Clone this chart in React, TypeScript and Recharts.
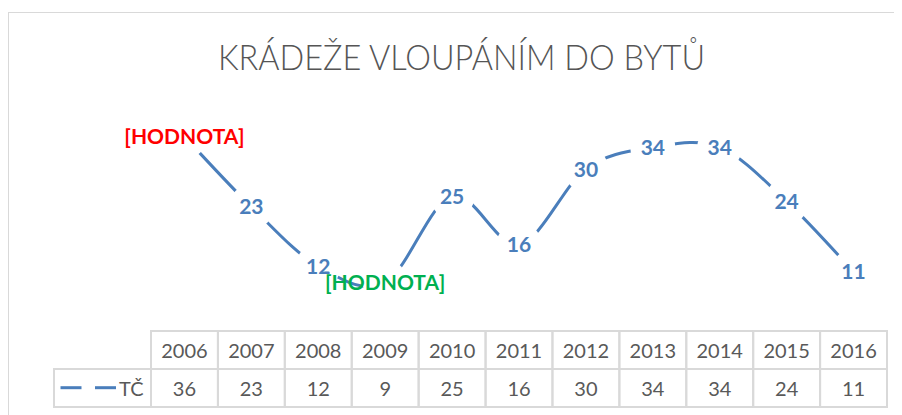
import React from 'react';
import { LineChart, Line, XAxis, YAxis, LabelList } from 'recharts';

// ---- data ----
const years = ['2006', '2007', '2008', '2009', '2010', '2011', '2012', '2013', '2014', '2015', '2016'];
const values = [36, 23, 12, 9, 25, 16, 30, 34, 34, 24, 11];
const seriesName = 'TČ';
const chartTitle = 'KRÁDEŽE VLOUPÁNÍM DO BYTŮ';
const placeholderText = '[HODNOTA]';
const overrideIndexes = [0, 3];
const overrideColors = ['#FF0000', '#00B050'];
const yDomain = [0, 40];

const data = years.map((year, i) => ({ year, tc: values[i] }));

// ---- layout / style ----
const W = 894;
const H = 407;
const MARGIN = { top: 107, right: 15, bottom: 0, left: 143 };
const PLOT_W = W - MARGIN.left - MARGIN.right;
const CELL = PLOT_W / years.length;
const ROW = 38;
const LEGEND_W = 97;
const BLUE = '#4A7EBB';
const GRID = '#D9D9D9';
const TEXT = '#595959';
const FONT = 'Lato, "Open Sans", sans-serif';

// Catmull-Rom style smoothing (like Excel's smoothed line)
const smoothCurve = (context: any) => {
  let pts: number[][] = [];
  return {
    areaStart() {},
    areaEnd() {},
    lineStart() {
      pts = [];
    },
    lineEnd() {
      const n = pts.length;
      if (!n) return;
      context.moveTo(pts[0][0], pts[0][1]);
      for (let i = 0; i < n - 1; i++) {
        const p0 = pts[i - 1] || pts[i];
        const p1 = pts[i];
        const p2 = pts[i + 1];
        const p3 = pts[i + 2] || p2;
        context.bezierCurveTo(
          p1[0] + (p2[0] - p0[0]) / 6,
          p1[1] + (p2[1] - p0[1]) / 6,
          p2[0] - (p3[0] - p1[0]) / 6,
          p2[1] - (p3[1] - p1[1]) / 6,
          p2[0],
          p2[1]
        );
      }
    },
    point(x: number, y: number) {
      pts.push([+x, +y]);
    },
  };
};

const TableTick = (props: any) => {
  const { x, y, payload } = props;
  const i = payload.index;
  const left = x - CELL / 2;
  return (
    <g>
      <rect x={left} y={y} width={CELL} height={ROW} fill="none" stroke={GRID} strokeWidth={2} />
      <rect x={left} y={y + ROW} width={CELL} height={ROW} fill="none" stroke={GRID} strokeWidth={2} />
      <text x={x} y={y + 26.5} textAnchor="middle" fill={TEXT} fontSize={20} fontFamily={FONT}>
        {payload.value}
      </text>
      <text x={x} y={y + ROW + 26.5} textAnchor="middle" fill={TEXT} fontSize={20} fontFamily={FONT}>
        {values[i]}
      </text>
      {i === 0 && (
        <g>
          <rect x={left - LEGEND_W} y={y + ROW} width={LEGEND_W} height={ROW} fill="none" stroke={GRID} strokeWidth={2} />
          <line x1={left - LEGEND_W + 6.5} x2={left - LEGEND_W + 27.5} y1={y + ROW + 18.7} y2={y + ROW + 18.7} stroke={BLUE} strokeWidth={3} />
          <line x1={left - LEGEND_W + 41} x2={left - LEGEND_W + 62} y1={y + ROW + 18.7} y2={y + ROW + 18.7} stroke={BLUE} strokeWidth={3} />
          <text x={left - 32} y={y + ROW + 26.5} textAnchor="start" fill={TEXT} fontSize={20} fontFamily={FONT}>
            {seriesName}
          </text>
        </g>
      )}
    </g>
  );
};

const renderDot = (props: any) => (
  <circle key={`dot-${props.index}`} cx={props.cx} cy={props.cy} r={22.5} fill="#ffffff" stroke="none" />
);

const renderLabel = (props: any) => {
  const { x, y, value, index } = props;
  const k = overrideIndexes.indexOf(index);
  const text = k >= 0 ? placeholderText : String(value);
  const color = k >= 0 ? overrideColors[k] : BLUE;
  return (
    <text key={`lbl-${index}`} x={x} y={y} dy={7.5} textAnchor="middle" fill={color} fontSize={21} fontWeight={700} fontFamily={FONT}>
      {text}
    </text>
  );
};

export default function App() {
  return (
    <div style={{ position: 'relative', width: W, height: H, overflow: 'hidden', background: '#fff' }}>
      <div
        style={{
          position: 'absolute',
          left: 0,
          top: 4,
          width: W + 50,
          height: H + 50,
          borderLeft: `1.5px solid ${GRID}`,
          borderTop: `1.5px solid ${GRID}`,
          boxSizing: 'border-box',
        }}
      />
      <div style={{ position: 'absolute', left: 0, top: 0 }}>
        <LineChart width={W} height={H} data={data} margin={MARGIN}>
          <text
            x={453.5}
            y={62}
            textAnchor="middle"
            fill="#555555"
            fontSize={35}
            fontWeight={300}
            fontFamily={FONT}
            textLength={487}
            lengthAdjust="spacingAndGlyphs"
          >
            {chartTitle}
          </text>
          <XAxis
            dataKey="year"
            type="category"
            scale="point"
            padding={{ left: CELL / 2, right: CELL / 2 }}
            axisLine={false}
            tickLine={false}
            tickSize={0}
            tickMargin={0}
            interval={0}
            height={H - MARGIN.top - 216}
            tick={<TableTick />}
          />
          <YAxis hide domain={yDomain} />
          <Line
            dataKey="tc"
            name={seriesName}
            type={smoothCurve as any}
            stroke={BLUE}
            strokeWidth={3}
            dot={renderDot}
            activeDot={false}
            isAnimationActive={false}
          >
            <LabelList dataKey="tc" content={renderLabel} />
          </Line>
        </LineChart>
      </div>
    </div>
  );
}
